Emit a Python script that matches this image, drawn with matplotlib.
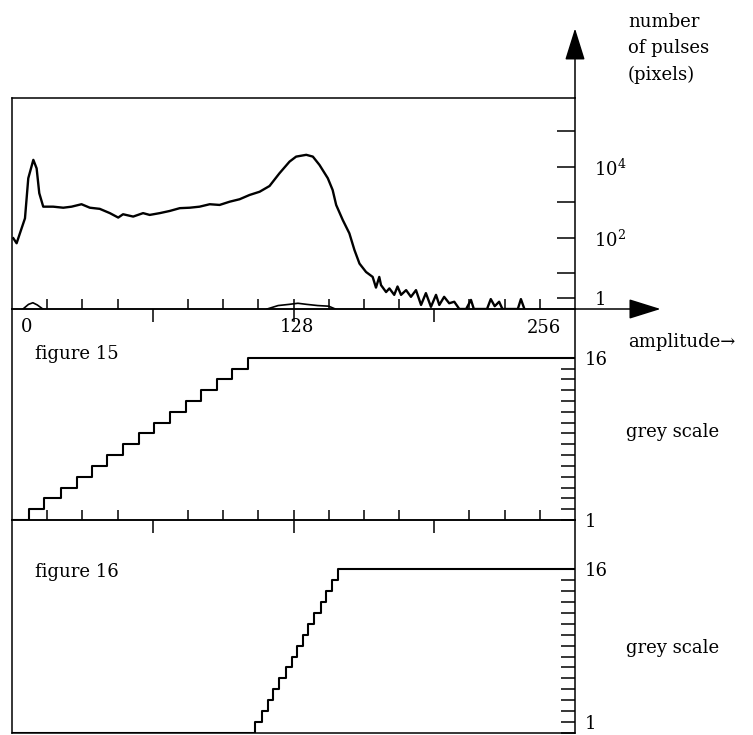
import numpy as np
import matplotlib.pyplot as plt
from matplotlib.ticker import FixedLocator, NullFormatter

OUTPUT_FILE = 'out.png'
W, H = 753, 735

# pulse height histogram: amplitude (0-256) against number of pulses
amplitude = [0.6, 2.1, 3.6, 5.9, 7.4, 9.7, 11.2, 12.4, 14.2, 18.7, 23.3, 27.1, 31.6, 35.4, 39.9,
             44.5, 48.3, 50.5, 55.1, 59.6, 62.6, 67.2, 71.7, 76.3, 80.8, 85.3, 89.9, 94.4, 99.0,
             103.5, 108.0, 112.6, 117.1, 121.6, 126.2, 129.2, 133.8, 136.8, 139.8, 143.6, 145.8,
             147.4, 150.4, 153.4, 155.7, 158.0, 161.0, 164.0, 165.5, 167.0, 167.8, 170.1, 171.6,
             173.8, 175.3, 176.9, 179.2, 181.4, 183.7, 186.0, 188.2, 190.5, 192.8, 194.3, 196.5,
             198.8, 201.1, 203.4, 206.5, 208.7, 210.0, 216.0, 217.7, 219.5, 221.5, 223.0, 230.0,
             231.4, 233.0]
pulses = [98, 71, 135, 357, 4790, 15800, 9100, 1820, 760, 760, 710, 760, 890, 710, 660,
          500, 375, 465, 400, 500, 445, 500, 575, 690, 710, 760, 890, 850, 1050,
          1230, 1620, 2000, 2900, 6600, 14100, 19500, 21900, 19500, 11400, 4800, 2240,
          850, 320, 135, 46, 19, 11, 8, 4, 8, 4.7, 3, 3.8,
          2.5, 4.3, 2.5, 3.4, 2.2, 3.4, 1.3, 2.8, 1.15, 2.5, 1.3, 2.2,
          1.45, 1.6, 1.0, 1.0, 1.8, 1.0, 1.0, 1.9, 1.2, 1.6, 1.0, 1.0,
          1.9, 1.0]

# faint second trace lying on the baseline
low_amp_a = [5.0, 7.5, 9.5, 11.5, 14.0]
low_pulses_a = [1.0, 1.35, 1.5, 1.3, 1.0]
low_amp_b = [116, 121, 126, 130, 134, 139, 144, 147]
low_pulses_b = [1.0, 1.25, 1.35, 1.45, 1.35, 1.25, 1.2, 1.0]

# grey scale transfer functions: amplitude where each next grey level starts
fig15_edges = [7.7, 14.5, 22.2, 29.5, 36.3, 43.1, 50.4, 57.6, 64.5, 71.7, 79.0, 85.8, 93.0, 99.9, 107.1]
fig16_edges = [110.3, 113.5, 116.2, 118.9, 121.6, 124.4, 127.1, 129.4, 132.1, 134.8, 137.5, 140.7,
               143.0, 145.7, 148.4]
grey_levels = list(range(1, 17))

hist_yticks = [2, 10, 1e2, 1e3, 1e4, 1e5]
hist_ylabels = ['1', '', r'$10^{2}$', '', r'$10^{4}$', '']
grey_ylabels = ['1'] + [''] * 14 + ['16']

plt.rcParams['font.family'] = 'DejaVu Serif'
plt.rcParams['mathtext.fontset'] = 'dejavuserif'
FS = 13
LW = 1.1


def fig_text(fig, x, y, s, **kw):
    fig.text(x / W, 1 - y / H, s, fontsize=FS, va='baseline', **kw)


def amp_axis(ax, show_ticks=True):
    ax.set_xlim(0, 256)
    ax.patch.set_alpha(0)
    for sp in ax.spines.values():
        sp.set_linewidth(LW)
    if not show_ticks:
        ax.set_xticks([])
        return
    # minor ticks every 16 point inwards, 64/128/192 point outwards (128 both ways)
    ax.xaxis.remove_overlapping_locs = False
    ax.xaxis.set_major_locator(FixedLocator([64, 128, 192]))
    ax.xaxis.set_minor_locator(FixedLocator([t for t in range(16, 256, 16) if t not in (64, 192)]))
    ax.tick_params(axis='x', which='major', direction='out', length=9, width=LW, labelbottom=False)
    ax.tick_params(axis='x', which='minor', direction='in', length=7, width=LW)


def grey_panel(fig, rect, edges, title, title_y, ticks):
    ax = fig.add_axes(rect)
    amp_axis(ax, show_ticks=ticks)
    xs = [0] + edges + [256]
    ys = grey_levels + [16]
    ax.step(xs, ys, where='post', color='black', lw=1.5)
    ax.set_ylim(1, 20.5)
    ax.yaxis.tick_right()
    ax.set_yticks(grey_levels)
    ax.set_yticklabels(grey_ylabels, fontsize=FS)
    ax.tick_params(axis='y', which='major', direction='in', length=10, width=LW, pad=7)
    fig_text(fig, 35, title_y, title)
    return ax


def main():
    fig = plt.figure(figsize=(W / 100, H / 100), dpi=100)

    # histogram panel
    ax = fig.add_axes([12 / W, 1 - 309 / H, 563 / W, 211 / H])
    amp_axis(ax)
    ax.plot(amplitude, pulses, color='black', lw=1.7)
    ax.plot(low_amp_a, low_pulses_a, color='black', lw=1.2)
    ax.plot(low_amp_b, low_pulses_b, color='black', lw=1.2)
    ax.set_yscale('log')
    ax.set_ylim(1, 10 ** 5.94)
    ax.yaxis.tick_right()
    ax.yaxis.set_major_locator(FixedLocator(hist_yticks))
    ax.yaxis.set_minor_locator(FixedLocator([]))
    ax.yaxis.set_minor_formatter(NullFormatter())
    ax.set_yticklabels(hist_ylabels, fontsize=FS)
    ax.tick_params(axis='y', which='major', direction='in', length=13, width=LW, pad=14)

    arrow = dict(arrowstyle='-|>,head_length=0.8,head_width=0.25', mutation_scale=25,
                 color='black', lw=LW, shrinkA=0, shrinkB=0)
    ax.annotate('', xy=(1.152, 0), xytext=(1, 0), xycoords='axes fraction', arrowprops=arrow)
    ax.annotate('', xy=(1, 1.33), xytext=(1, 1), xycoords='axes fraction', arrowprops=arrow)

    grey_panel(fig, [12 / W, 1 - 520 / H, 563 / W, 211 / H], fig15_edges, 'figure 15', 359, True)
    ax3 = grey_panel(fig, [12 / W, 1 - 733 / H, 563 / W, 213 / H], fig16_edges, 'figure 16', 577, False)
    # keep the bottom "1" inside the picture
    ax3.get_yticklabels()[0].set_verticalalignment('bottom')

    # axis annotations
    fig_text(fig, 628, 27, 'number')
    fig_text(fig, 628, 53, 'of pulses')
    fig_text(fig, 628, 80, '(pixels)')
    fig_text(fig, 27, 332, '0', ha='center')
    fig_text(fig, 297, 332, '128', ha='center')
    fig_text(fig, 544, 333, '256', ha='center')
    fig_text(fig, 628, 347, 'amplitude\u2192')
    fig_text(fig, 626, 437, 'grey scale')
    fig_text(fig, 626, 653, 'grey scale')

    fig.savefig(OUTPUT_FILE, dpi=100)


if __name__ == "__main__":
    main()
